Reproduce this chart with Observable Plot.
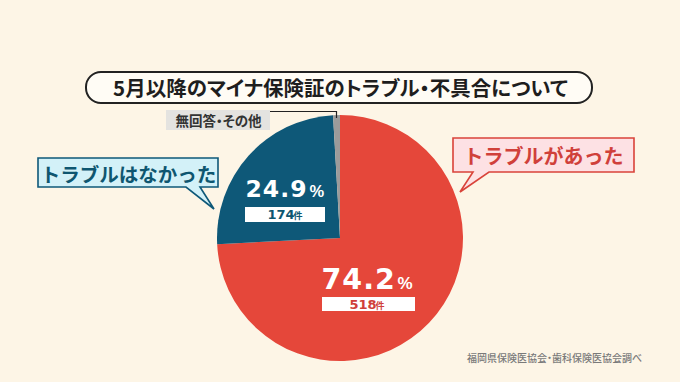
<!DOCTYPE html>
<html><head><meta charset="utf-8">
<script src="https://cdn.jsdelivr.net/npm/d3@7"></script>
<script src="https://cdn.jsdelivr.net/npm/@observablehq/plot@0.6"></script>
<style>
html,body{margin:0;padding:0;background:#fdf5e6;}
#chart{width:680px;height:382px;overflow:hidden;}
svg text{font-family:"Noto Sans CJK JP","Noto Sans",sans-serif;}
g[aria-description="palt"] text{font-feature-settings:"palt";}
g[aria-description="bignum"] text{font-family:"DejaVu Sans",sans-serif;letter-spacing:1px;}
g[aria-description="smallnum"] text{font-family:"DejaVu Sans",sans-serif;}
g[aria-description="pct"] text{font-family:"Liberation Sans",Arial,sans-serif;}
</style></head><body><div id="chart"></div>
<script>
// ---- data ----
const categories = ["トラブルがあった", "トラブルはなかった", "無回答・その他"];
const counts = [518, 174, 6];
const percents = [74.2, 24.9, 0.9];
const sliceColors = ["#e5473a", "#0e5878", "#9b9b9b"];
const title = "5月以降のマイナ保険証のトラブル・不具合について";
const source = "福岡県保険医協会・歯科保険医協会調べ";

const W = 680, H = 382;
const cx = 340, cy = 238, R = 123;

const slices = categories.map((c, i) => ({category: c, count: counts[i], pct: percents[i], color: sliceColors[i]}));
const arcs = d3.pie().sort(null).value(d => d.pct)(slices);

function pieMark(index, scales) {
  const x = scales.x, y = scales.y;
  const r = x(cx + R) - x(cx);
  const arc = d3.arc().innerRadius(0).outerRadius(r);
  const g = d3.create("svg:g").attr("transform", `translate(${x(cx)},${y(cy)})`);
  g.selectAll("path").data(arcs).join("path")
    .attr("d", arc).attr("fill", d => d.data.color);
  return g.node();
}

// callout shapes (box with tail)
const callouts = [
  {pts: [[38,158],[218,158],[218,187],[200,187],[214,209],[186,187],[38,187]], fill: "#d3f1f8", stroke: "#0e5878"},
  {pts: [[453,138],[634,138],[634,172],[489,172],[460,192],[473,172],[453,172]], fill: "#fde1e4", stroke: "#d9433a"}
];
function calloutMark(index, scales) {
  const x = scales.x, y = scales.y;
  const g = d3.create("svg:g");
  g.selectAll("path").data(callouts).join("path")
    .attr("d", d => "M" + d.pts.map(p => `${x(p[0])},${y(p[1])}`).join("L") + "Z")
    .attr("fill", d => d.fill).attr("stroke", d => d.stroke).attr("stroke-width", 1.6)
    .attr("stroke-linejoin", "miter");
  g.append("path")
    .attr("d", `M${x(270)},${y(111.5)}H${x(336.5)}V${y(118)}`)
    .attr("fill", "none").attr("stroke", "#222").attr("stroke-width", 1.2);
  return g.node();
}

const rects = [
  {x1: 86, x2: 592, y1: 72, y2: 103, fill: "#fffcf5", stroke: "#222", sw: 2, rx: 15},
  {x1: 166, x2: 270, y1: 110, y2: 130, fill: "#e4e3e0", stroke: "none", sw: 0, rx: 0},
  {x1: 245, x2: 325, y1: 207, y2: 222, fill: "#ffffff", stroke: "none", sw: 0, rx: 0},
  {x1: 322, x2: 415, y1: 297, y2: 311, fill: "#ffffff", stroke: "none", sw: 0, rx: 0}
];

const texts = [
  {x: 340, y: 95, t: title, size: 20.5, fill: "#1e1e1e", anchor: "middle", w: 700, cls: "palt"},
  {x: 218, y: 125.5, t: categories[2], size: 13.5, fill: "#333", anchor: "middle", w: 700, cls: "palt"},
  {x: 128, y: 181, t: categories[1], size: 19.5, fill: "#0e5670", anchor: "middle", w: 700, cls: "plain"},
  {x: 543, y: 163, t: categories[0], size: 20, fill: "#d0403a", anchor: "middle", w: 700, cls: "plain"},
  {x: 245, y: 196, t: String(percents[1]), size: 23.5, fill: "#ffffff", anchor: "start", w: 700, cls: "bignum"},
  {x: 309, y: 196, t: "%", size: 16.5, fill: "#ffffff", anchor: "start", w: 700, cls: "pct"},
  {x: 321, y: 288, t: String(percents[0]), size: 28.5, fill: "#ffffff", anchor: "start", w: 700, cls: "bignum"},
  {x: 397, y: 288, t: "%", size: 17, fill: "#ffffff", anchor: "start", w: 700, cls: "pct"},
  {x: 267, y: 218.5, t: String(counts[1]), size: 13, fill: "#0e5670", anchor: "start", w: 700, cls: "smallnum"},
  {x: 293, y: 218.5, t: "件", size: 9, fill: "#0e5670", anchor: "start", w: 700, cls: "plain"},
  {x: 349, y: 308, t: String(counts[0]), size: 13, fill: "#d0403a", anchor: "start", w: 700, cls: "smallnum"},
  {x: 375, y: 308, t: "件", size: 9, fill: "#d0403a", anchor: "start", w: 700, cls: "plain"},
  {x: 554, y: 361, t: source, size: 10, fill: "#7a7a7a", anchor: "middle", w: 500, cls: "palt"}
];

const textMarks = texts.map(d => Plot.text([d], {
  x: "x", y: "y", text: "t", fill: d.fill, fontSize: d.size, fontWeight: d.w,
  textAnchor: d.anchor, lineAnchor: "bottom", ariaDescription: d.cls
}));

const rectMarks = rects.map(d => Plot.rect([d], {
  x1: "x1", x2: "x2", y1: "y1", y2: "y2", fill: d.fill, stroke: d.stroke,
  strokeWidth: d.sw, rx: d.rx
}));

const chart = Plot.plot({
  width: W, height: H, margin: 0,
  x: {domain: [0, W], range: [0, W], axis: null},
  y: {domain: [0, H], range: [0, H], axis: null},
  style: {background: "#fdf5e6", fontFamily: "'Noto Sans CJK JP', sans-serif"},
  marks: [
    pieMark,
    calloutMark,
    ...rectMarks,
    ...textMarks
  ]
});
document.getElementById("chart").appendChild(chart);
</script>
</body></html>
